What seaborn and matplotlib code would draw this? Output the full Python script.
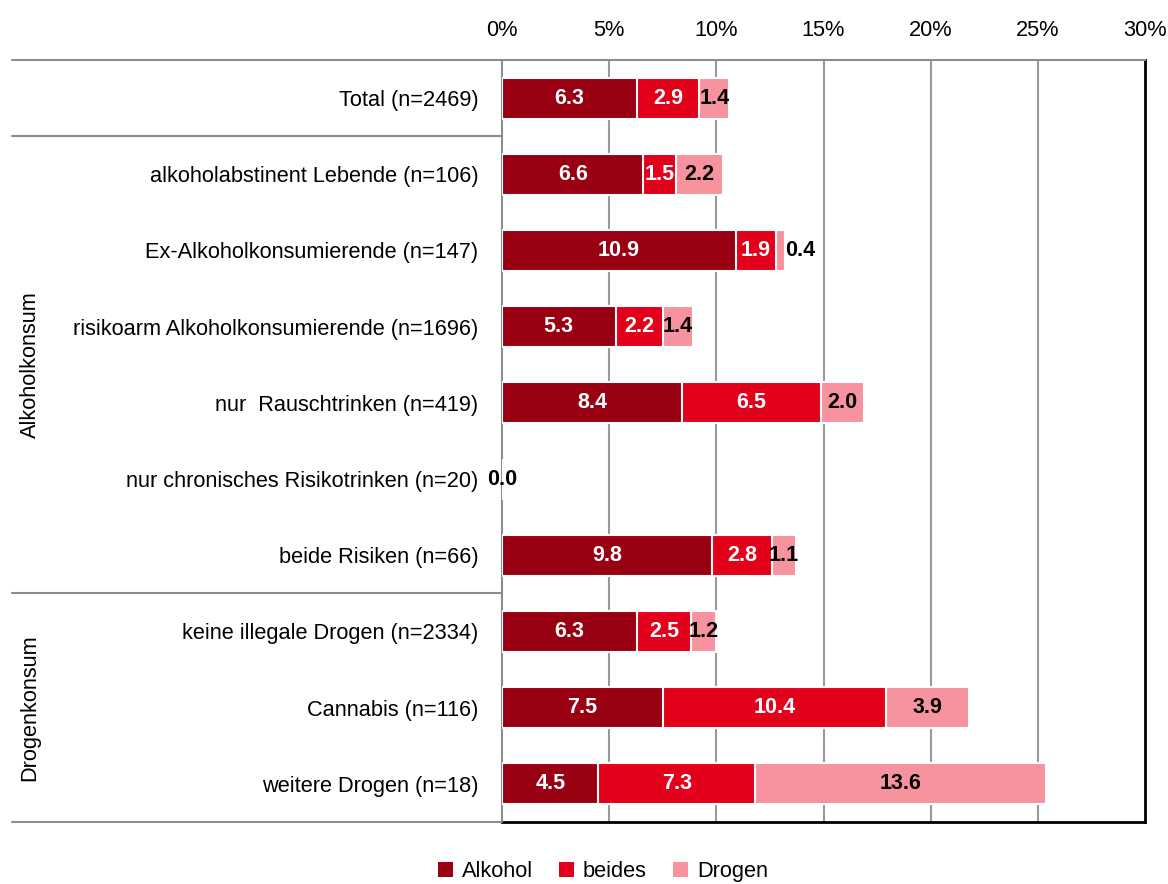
import matplotlib
matplotlib.use("Agg")
import matplotlib.pyplot as plt
import matplotlib.transforms as mtransforms
from matplotlib.patches import Patch
import seaborn as sns
import pandas as pd
import numpy as np

categories = [
    "Total (n=2469)",
    "alkoholabstinent Lebende (n=106)",
    "Ex-Alkoholkonsumierende (n=147)",
    "risikoarm Alkoholkonsumierende (n=1696)",
    "nur  Rauschtrinken (n=419)",
    "nur chronisches Risikotrinken (n=20)",
    "beide Risiken (n=66)",
    "keine illegale Drogen (n=2334)",
    "Cannabis (n=116)",
    "weitere Drogen (n=18)",
]
alkohol = [6.3, 6.6, 10.9, 5.3, 8.4, 0.0, 9.8, 6.3, 7.5, 4.5]
beides = [2.9, 1.5, 1.9, 2.2, 6.5, 0.0, 2.8, 2.5, 10.4, 7.3]
drogen = [1.4, 2.2, 0.4, 1.4, 2.0, 0.0, 1.1, 1.2, 3.9, 13.6]
series_names = ["Alkohol", "beides", "Drogen"]
xticks = [0, 5, 10, 15, 20, 25, 30]
groups = [("Alkoholkonsum", 1, 6), ("Drogenkonsum", 7, 9)]

colors = {"Alkohol": "#990011", "beides": "#E3001B", "Drogen": "#F7939E"}

sns.set_theme(style="white")
plt.rcParams["font.family"] = ["Liberation Sans", "DejaVu Sans"]
plt.rcParams["text.color"] = "black"
plt.rcParams["xtick.color"] = "black"
plt.rcParams["ytick.color"] = "black"

FS = 15.7
VFS = 15.5

df = pd.DataFrame({"cat": categories, "Alkohol": alkohol, "beides": beides, "Drogen": drogen})
df["c1"] = df["Alkohol"]
df["c2"] = df["Alkohol"] + df["beides"]
df["c3"] = df["c2"] + df["Drogen"]

fig = plt.figure(figsize=(11.68, 8.84), dpi=100)
ax = fig.add_axes([502 / 1168, 1 - 822 / 884, (1145 - 502) / 1168, (822 - 60) / 884])

bw = 0.54
for col, name in [("c3", "Drogen"), ("c2", "beides"), ("c1", "Alkohol")]:
    sns.barplot(data=df, x=col, y="cat", order=categories, orient="h", color=colors[name],
                width=bw, edgecolor="white", linewidth=1.5, saturation=1, ax=ax, zorder=3)

ax.set_xlim(0, 30)
ax.set_ylim(len(categories) - 0.5, -0.5)
ax.set_xticks(xticks)
ax.set_xticklabels([f"{t}%" for t in xticks])
ax.xaxis.tick_top()
ax.set_xlabel("")
ax.set_ylabel("")
ax.tick_params(axis="x", length=0, pad=14, labelsize=FS, colors="black")
ax.tick_params(axis="y", length=0, pad=17, labelsize=FS, colors="black")
for t in xticks[1:-1]:
    ax.axvline(t, color="#999999", linewidth=1.5, zorder=1)

for s in ["left", "top"]:
    ax.spines[s].set_color("#8c8c8c")
    ax.spines[s].set_linewidth(1.5)
for s in ["right", "bottom"]:
    ax.spines[s].set_color("black")
    ax.spines[s].set_linewidth(2)

# value labels
for i in range(len(categories)):
    a, b, d = alkohol[i], beides[i], drogen[i]
    if a > 0:
        ax.text(a / 2, i, f"{a:.1f}", ha="center", va="center", color="white",
                fontsize=VFS, fontweight="bold", zorder=5)
    if b > 0:
        ax.text(a + b / 2, i, f"{b:.1f}", ha="center", va="center", color="white",
                fontsize=VFS, fontweight="bold", zorder=5)
    if d >= 1 or d == 0:
        xpos = a + b + d / 2
    else:
        xpos = a + b + d + 0.7
    ax.text(xpos, i, f"{d:.1f}", ha="center", va="center", color="black",
            fontsize=VFS, fontweight="bold", zorder=5)

# group separators
trans = mtransforms.blended_transform_factory(ax.transAxes, ax.transData)
x0 = (12 - 502) / (1145 - 502)
for yv in [-0.5, 0.5, 6.5, 9.5]:
    ax.plot([x0, 0], [yv, yv], transform=trans, color="#8c8c8c", linewidth=1.5,
            clip_on=False, zorder=4)

gx = (30 - 502) / (1145 - 502)
for name, r0, r1 in groups:
    ax.text(gx, (r0 + r1) / 2, name, transform=trans, rotation=90, ha="center",
            va="center", fontsize=FS, color="black")

handles = [Patch(facecolor=colors[n], edgecolor="none", label=n) for n in series_names]
fig.legend(handles=handles, loc="center", bbox_to_anchor=(0.516, 0.014), ncol=3,
           frameon=False, fontsize=FS, handlelength=0.7, handleheight=0.7,
           handletextpad=0.4, columnspacing=1.2)

fig.savefig("out.png", dpi=100)
